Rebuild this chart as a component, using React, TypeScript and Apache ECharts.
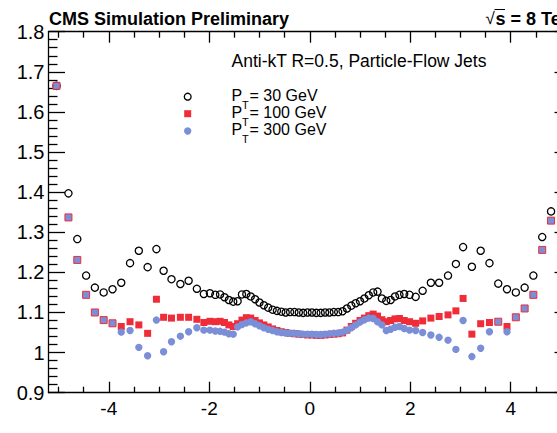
import React, { useEffect, useRef } from "react";
import * as echarts from "echarts";

// Jet eta bin centres (CMS L2 eta binning, |eta| up to 5.191)
const etaBins = [
  -5.04, -4.803, -4.627, -4.451, -4.277, -4.102, -3.926, -3.752, -3.577, -3.402,
  -3.227, -3.052, -2.909, -2.752, -2.575, -2.411, -2.247, -2.108, -1.987, -1.88,
  -1.785, -1.697, -1.61, -1.523, -1.436, -1.349, -1.262, -1.175, -1.088, -1.001,
  -0.914, -0.827, -0.74, -0.653, -0.566, -0.479, -0.392, -0.305, -0.218, -0.131,
  -0.044,
  0.044, 0.131, 0.218, 0.305, 0.392, 0.479, 0.566, 0.653, 0.74, 0.827,
  0.914, 1.001, 1.088, 1.175, 1.262, 1.349, 1.436, 1.523, 1.61, 1.697,
  1.785, 1.88, 1.987, 2.108, 2.247, 2.411, 2.575, 2.752, 2.909, 3.052,
  3.227, 3.402, 3.577, 3.752, 3.926, 4.102, 4.277, 4.451, 4.627, 4.803,
  5.04,
];

// Correction factor, PT = 30 GeV
const response30 = [
  1.665, 1.397, 1.283, 1.192, 1.162, 1.15, 1.158, 1.174, 1.223, 1.254,
  1.213, 1.258, 1.204, 1.183, 1.171, 1.179, 1.159, 1.146, 1.148, 1.144,
  1.145, 1.138, 1.131, 1.127, 1.128, 1.145, 1.146, 1.14, 1.133, 1.125,
  1.118, 1.112, 1.107, 1.104, 1.102, 1.1, 1.101, 1.101, 1.1, 1.099,
  1.1,
  1.1, 1.099, 1.099, 1.1, 1.1, 1.101, 1.101, 1.103, 1.11, 1.117,
  1.123, 1.128, 1.135, 1.143, 1.15, 1.152, 1.135, 1.129, 1.131, 1.14,
  1.144, 1.146, 1.144, 1.139, 1.154, 1.174, 1.174, 1.192, 1.221, 1.263,
  1.214, 1.254, 1.223, 1.172, 1.158, 1.15, 1.162, 1.192, 1.288, 1.352,
  1.66,
];

// Correction factor, PT = 100 GeV
const response100 = [
  1.665, 1.337, 1.231, 1.144, 1.1, 1.081, 1.073, 1.065, 1.077, 1.069,
  1.048, 1.133, 1.088, 1.086, 1.088, 1.088, 1.083, 1.075, 1.078, 1.077,
  1.078, 1.075, 1.069, 1.065, 1.072, 1.081, 1.087, 1.086, 1.08, 1.074,
  1.069, 1.064, 1.059, 1.055, 1.052, 1.05, 1.048, 1.047, 1.046, 1.045,
  1.044,
  1.044, 1.043, 1.043, 1.044, 1.045, 1.046, 1.047, 1.049, 1.056, 1.065,
  1.073, 1.08, 1.086, 1.092, 1.096, 1.091, 1.082, 1.077, 1.08, 1.084,
  1.085, 1.08, 1.077, 1.073, 1.079, 1.086, 1.09, 1.094, 1.104, 1.135,
  1.046, 1.072, 1.075, 1.077, 1.065, 1.088, 1.11, 1.144, 1.256, 1.329,
  1.665,
];

// Correction factor, PT = 300 GeV (null where the bin is not populated)
const response300 = [
  null, null, null, null, null, null, null, 1.051, 1.055, 1.013,
  0.992, 1.081, 1.002, 1.027, 1.041, 1.052, 1.062, 1.056, 1.056, 1.054,
  1.053, 1.051, 1.047, 1.046, 1.064, 1.07, 1.074, 1.077, 1.072, 1.067,
  1.062, 1.058, 1.055, 1.052, 1.05, 1.049, 1.048, 1.048, 1.047, 1.046,
  1.046,
  1.046, 1.045, 1.045, 1.046, 1.047, 1.048, 1.049, 1.051, 1.055, 1.062,
  1.069, 1.076, 1.082, 1.086, 1.085, 1.077, 1.069, 1.055, 1.058, 1.063,
  1.065, 1.06, 1.056, 1.055, 1.05, 1.044, 1.038, 1.031, 1.008, 1.08,
  0.99, 1.011, 1.052, null, 1.052, null, null, null, null, null,
  null,
];

const xMajorTicks = [-4, -2, 0, 2, 4];
const xMinorTicks = [-5, -4.5, -3.5, -3, -2.5, -1.5, -1, -0.5, 0.5, 1, 1.5, 2.5, 3, 3.5, 4.5, 5];
const legendEntries = ["= 30 GeV", "= 100 GeV", "= 300 GeV"];

const RED = "#ee2d38";
const BLUE = "#7b8ed8";
const FONT = '"Liberation Sans", Arial, Helvetica, sans-serif';

export default function App() {
  const ref = useRef<HTMLDivElement>(null);

  useEffect(() => {
    if (!ref.current) return;
    const chart = echarts.init(ref.current, null, { renderer: "svg" });

    const pts30 = etaBins.map((x, i) => [x, response30[i]]);
    const pts300 = etaBins
      .map((x, i) => (response300[i] == null ? null : [x, response300[i]]))
      .filter((p) => p !== null);
    // bins without a 300 GeV point are drawn as blue squares edged in red
    const pts100 = etaBins.map((x, i) =>
      response300[i] == null
        ? { value: [x, response100[i]], itemStyle: { color: BLUE, borderColor: RED, borderWidth: 1 } }
        : { value: [x, response100[i]] }
    );

    const axisLine = { show: true, onZero: false, lineStyle: { color: "#000", width: 1.3 } };
    const tickLine = { color: "#000", width: 1.3 };
    const xBase = { type: "value", min: -5.2, max: 5.2, splitLine: { show: false } };
    const yBase = {
      type: "value",
      min: 0.9,
      max: 1.8,
      interval: 0.1,
      axisLine,
      axisTick: { show: true, inside: true, length: 16.5, lineStyle: tickLine },
      minorTick: { show: true, splitNumber: 5, length: 9, lineStyle: tickLine },
      splitLine: { show: false },
      minorSplitLine: { show: false },
    };

    const legendGraphics: any[] = [];
    const rowY = [95, 112, 129];
    legendEntries.forEach((label, i) => {
      const y = rowY[i];
      legendGraphics.push(
        { type: "text", x: 231.5, y, style: { text: "P", font: `16px ${FONT}`, fill: "#000", textVerticalAlign: "middle" } },
        { type: "text", x: 242, y: y + 10, style: { text: "T", font: `11px ${FONT}`, fill: "#000", textVerticalAlign: "middle" } },
        { type: "text", x: 249.5, y, style: { text: label, font: `16px ${FONT}`, fill: "#000", textVerticalAlign: "middle" } }
      );
    });
    legendGraphics.push(
      { type: "circle", shape: { cx: 187.7, cy: 96.7, r: 3.4 }, style: { fill: "none", stroke: "#000", lineWidth: 1.3 } },
      { type: "rect", shape: { x: 184.2, y: 110.2, width: 7, height: 7 }, style: { fill: RED } },
      { type: "circle", shape: { cx: 187.7, cy: 131, r: 3.7 }, style: { fill: BLUE } }
    );

    chart.setOption({
      animation: false,
      backgroundColor: "#fff",
      grid: { left: 48.5, right: 29, top: 31.7, bottom: 40.3, containLabel: false, outerBoundsMode: "none" },
      xAxis: [
        {
          ...xBase,
          position: "bottom",
          axisLine,
          axisTick: { show: true, inside: true, length: 11, customValues: xMajorTicks, lineStyle: tickLine },
          axisLabel: { show: true, customValues: xMajorTicks, margin: 6, fontSize: 19, color: "#000", fontFamily: FONT },
        },
        {
          ...xBase,
          position: "bottom",
          axisLine: { show: false },
          axisTick: { show: true, inside: true, length: 6, customValues: xMinorTicks, lineStyle: tickLine },
          axisLabel: { show: false },
        },
        {
          ...xBase,
          position: "top",
          axisLine,
          axisTick: { show: true, inside: true, length: 11, customValues: xMajorTicks, lineStyle: tickLine },
          axisLabel: { show: false },
        },
        {
          ...xBase,
          position: "top",
          axisLine: { show: false },
          axisTick: { show: true, inside: true, length: 6, customValues: xMinorTicks, lineStyle: tickLine },
          axisLabel: { show: false },
        },
      ],
      yAxis: [
        {
          ...yBase,
          position: "left",
          axisLabel: { show: true, margin: 4, fontSize: 20, color: "#000", fontFamily: FONT },
        },
        { ...yBase, position: "right", axisLabel: { show: false } },
      ],
      series: [
        {
          name: "PT = 30 GeV",
          type: "scatter",
          symbol: "circle",
          symbolSize: 7.2,
          itemStyle: { color: "rgba(0,0,0,0)", borderColor: "#000", borderWidth: 1.3, opacity: 1 },
          data: pts30,
        },
        {
          name: "PT = 100 GeV",
          type: "scatter",
          symbol: "rect",
          symbolSize: 7,
          itemStyle: { color: RED, opacity: 1 },
          data: pts100,
        },
        {
          name: "PT = 300 GeV",
          type: "scatter",
          symbol: "circle",
          symbolSize: 7.4,
          itemStyle: { color: BLUE, opacity: 1 },
          data: pts300,
        },
      ],
      graphic: [
        {
          type: "text",
          x: 49,
          y: 18.5,
          style: { text: "CMS Simulation Preliminary", font: `bold 18px ${FONT}`, fill: "#000", textVerticalAlign: "middle" },
        },
        { type: "text", x: 485.5, y: 18.5, style: { text: "√", font: `17px ${FONT}`, fill: "#000", textVerticalAlign: "middle" } },
        { type: "line", shape: { x1: 494.5, y1: 9.5, x2: 505, y2: 9.5 }, style: { stroke: "#000", lineWidth: 1 } },
        {
          type: "text",
          x: 495.5,
          y: 19.2,
          style: { text: "s = 8 TeV", font: `bold 18px ${FONT}`, fill: "#000", textVerticalAlign: "middle" },
        },
        {
          type: "text",
          x: 231.5,
          y: 60.5,
          style: { text: "Anti-kT R=0.5, Particle-Flow Jets", font: `17.5px ${FONT}`, fill: "#000", textVerticalAlign: "middle" },
        },
        ...legendGraphics,
      ],
    });

    return () => chart.dispose();
  }, []);

  return (
    <div style={{ position: "fixed", left: 0, top: 0, width: 557, height: 433, overflow: "hidden", background: "#fff" }}>
      <div ref={ref} style={{ width: 600, height: 433 }} />
    </div>
  );
}
